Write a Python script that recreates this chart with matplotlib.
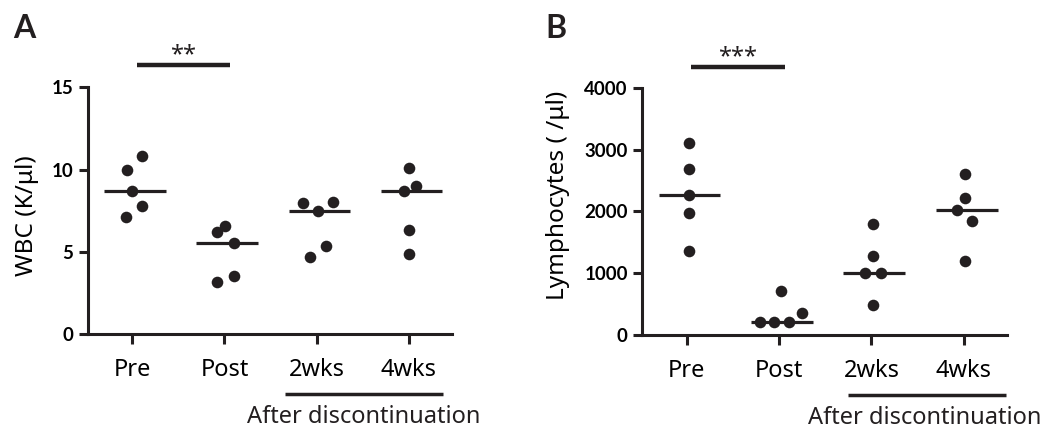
import numpy as np
import matplotlib
matplotlib.use("Agg")
import matplotlib.pyplot as plt
import matplotlib.transforms as mtransforms

plt.rcParams['font.family'] = ['Noto Sans', 'DejaVu Sans']
BOLD_FAMILY = ['Lato', 'DejaVu Sans']

categories = ["Pre", "Post", "2wks", "4wks"]

# Panel A: WBC (K/ul)
wbc_pre = [10.8, 10.0, 8.7, 7.8, 7.1]
wbc_post = [6.6, 6.2, 5.55, 3.55, 3.15]
wbc_2wks = [8.0, 8.05, 7.5, 5.35, 4.7]
wbc_4wks = [10.1, 9.0, 8.7, 6.35, 4.85]

# Panel B: Lymphocytes (/ul)
lym_pre = [3110, 2680, 2265, 1980, 1355]
lym_post = [715, 355, 215, 215, 215]
lym_2wks = [1795, 1285, 1005, 1005, 480]
lym_4wks = [2600, 2220, 2020, 1845, 1200]

wbc_yticks = [0, 5, 10, 15]
lym_yticks = [0, 1000, 2000, 3000, 4000]

# horizontal spread of dots (layout only)
wbc_jitter = [[0.10, -0.06, 0.0, 0.10, -0.07],
              [0.01, -0.08, 0.10, 0.10, -0.08],
              [-0.145, 0.18, 0.01, 0.10, -0.07],
              [0.0, 0.08, -0.05, 0.0, 0.0]]
lym_jitter = [[0.025, 0.025, 0.025, 0.025, 0.025],
              [0.02, 0.25, -0.21, -0.06, 0.11],
              [0.015, 0.015, -0.065, 0.10, 0.015],
              [0.01, 0.01, -0.07, 0.09, 0.01]]

INK = '#231f20'

fig = plt.figure(figsize=(10.47, 4.30), dpi=100)
axA = fig.add_axes([0.0841, 0.2226, 0.3477, 0.5744])
axB = fig.add_axes([0.6135, 0.2209, 0.3486, 0.5751])


def draw(ax, groups, jitter, yticks, ylim, ylabel, ylab_xy, sig_y, stars,
         star_y, after_x, after_text_x):
    x = np.arange(len(categories))
    for i, (vals, jit) in enumerate(zip(groups, jitter)):
        xs = x[i] + np.array(jit)
        ax.scatter(xs, vals, s=70, color=INK, zorder=3, linewidths=0)
        med = np.median(vals)
        ax.plot([x[i] + 0.03 - 0.335, x[i] + 0.03 + 0.335], [med, med],
                color=INK, lw=2.3, solid_capstyle='butt', zorder=2)
    ax.set_xlim(-0.48, 3.47)
    ax.set_ylim(*ylim)
    ax.set_xticks(x)
    ax.set_xticklabels(categories, fontsize=17)
    ax.set_yticks(yticks)
    ax.set_yticklabels([str(t) for t in yticks], fontsize=13.5,
                       fontweight='bold', family=BOLD_FAMILY)
    for s in ['top', 'right']:
        ax.spines[s].set_visible(False)
    for s in ['left', 'bottom']:
        ax.spines[s].set_linewidth(2.2)
        ax.spines[s].set_color(INK)
    ax.tick_params(axis='y', length=6.5, width=2.2, color=INK, pad=4)
    ax.tick_params(axis='x', length=7.5, width=2.2, color=INK, pad=9.5)
    ax.set_ylabel(ylabel, fontsize=17.5, va='center')
    ax.yaxis.set_label_coords(*ylab_xy)
    # significance bar between Pre and Post
    ax.plot([0.05, 1.06], [sig_y, sig_y], color=INK, lw=3.2,
            solid_capstyle='butt', clip_on=False)
    ax.text(0.55, star_y, stars, ha='center', va='baseline', fontsize=17,
            color=INK, clip_on=False)
    # "After discontinuation" bracket
    tr = mtransforms.blended_transform_factory(ax.transData, ax.transAxes)
    ax.plot(after_x, [-0.243, -0.243], color=INK, lw=2.5,
            solid_capstyle='butt', transform=tr, clip_on=False)
    ax.text(after_text_x, -0.358, "After discontinuation", ha='center',
            va='baseline', fontsize=17, transform=tr, color=INK)


draw(axA, [wbc_pre, wbc_post, wbc_2wks, wbc_4wks], wbc_jitter, wbc_yticks,
     (0, 15), "WBC (K/\u03bcl)", (-0.168, 0.479), 16.33, "**", 16.55,
     [1.652, 3.376], 2.51)
draw(axB, [lym_pre, lym_post, lym_2wks, lym_4wks], lym_jitter, lym_yticks,
     (0, 4000), "Lymphocytes ( /\u03bcl)", (-0.231, 0.566), 4339, "***", 4395,
     [1.742, 3.452], 2.58)

fig.text(0.0124, 0.912, "A", fontsize=23, fontweight='bold', ha='left',
         va='baseline', color=INK, family=BOLD_FAMILY)
fig.text(0.5205, 0.912, "B", fontsize=23, fontweight='bold', ha='left',
         va='baseline', color=INK, family=BOLD_FAMILY)

fig.savefig("out.png", dpi=100)
